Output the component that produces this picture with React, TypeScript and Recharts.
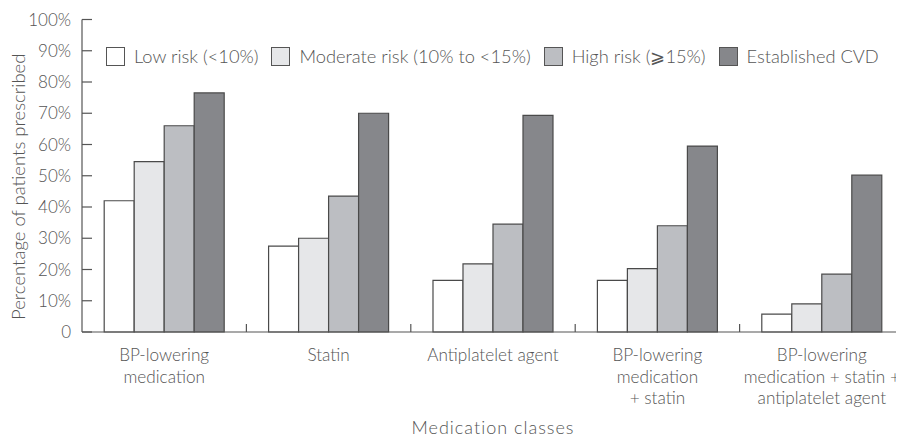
import React from 'react';
import { BarChart, Bar, XAxis, YAxis, Legend } from 'recharts';

const categories = [
  'BP-lowering\nmedication',
  'Statin',
  'Antiplatelet agent',
  'BP-lowering\nmedication\n+ statin',
  'BP-lowering\nmedication + statin +\nantiplatelet agent',
];
const lowRisk = [42, 27.5, 16.5, 16.5, 5.7];
const moderateRisk = [54.5, 30, 21.8, 20.3, 9];
const highRisk = [66, 43.5, 34.5, 34, 18.5];
const establishedCvd = [76.5, 70, 69.3, 59.5, 50.2];
const yTicks = [0, 10, 20, 30, 40, 50, 60, 70, 80, 90, 100];

const series = [
  { key: 'low', name: 'Low risk (<10%)', fill: '#ffffff' },
  { key: 'moderate', name: 'Moderate risk (10% to <15%)', fill: '#e6e7e9' },
  { key: 'high', name: 'High risk (\u2a7e15%)', fill: '#bcbec2' },
  { key: 'cvd', name: 'Established CVD', fill: '#86878b' },
];

const data = categories.map((name, i) => ({
  name,
  low: lowRisk[i],
  moderate: moderateRisk[i],
  high: highRisk[i],
  cvd: establishedCvd[i],
}));

const FONT = 'Lato, "Open Sans", sans-serif';
const TEXT = '#555555';
const LINE = '#555555';

const YTick = (props: any) => {
  const { x, y, payload } = props;
  return (
    <g>
      <line x1={x + 11} x2={x + 21} y1={y} y2={y} stroke={LINE} strokeWidth={1.2} />
      <text x={x} y={y} dy={6} textAnchor="end" fill={TEXT} fontSize={17} fontWeight={300} fontFamily={FONT}>
        {payload.value === 0 ? '0' : `${payload.value}%`}
      </text>
    </g>
  );
};

const XTick = (props: any) => {
  const { x, y, payload, index } = props;
  const lines = String(payload.value).split('\n');
  const off = payload.offset ?? 0;
  return (
    <g>
      {index > 0 && (
        <line x1={x - off} x2={x - off} y1={y} y2={y - 8} stroke={LINE} strokeWidth={1.2} />
      )}
      <text x={x} y={y + 29} textAnchor="middle" fill={TEXT} fontSize={17.2} fontWeight={300} fontFamily={FONT}>
        {lines.map((l, i) => (
          <tspan key={i} x={x} dy={i === 0 ? 0 : 21.5}>
            {l}
          </tspan>
        ))}
      </text>
    </g>
  );
};

const YLabel = (props: any) => {
  const vb = props.viewBox;
  const cx = vb.x + 16.5;
  const cy = vb.y + vb.height / 2 + 11;
  return (
    <text
      x={cx}
      y={cy}
      transform={`rotate(-90, ${cx}, ${cy})`}
      textAnchor="middle"
      fill={TEXT}
      fontSize={18.5}
      fontWeight={300}
      fontFamily={FONT}
    >
      Percentage of patients prescribed
    </text>
  );
};

const LegendContent = () => (
  <div
    style={{
      display: 'flex',
      alignItems: 'center',
      fontFamily: FONT,
      fontSize: 18.3,
      fontWeight: 300,
      color: TEXT,
      whiteSpace: 'nowrap',
    }}
  >
    {series.map((s) => (
      <div key={s.key} style={{ display: 'flex', alignItems: 'center', marginRight: 13 }}>
        <span
          style={{
            display: 'inline-block',
            width: 17,
            height: 17,
            background: s.fill,
            border: `1.5px solid ${LINE}`,
            marginRight: 9,
          }}
        />
        <span>{s.name}</span>
      </div>
    ))}
  </div>
);

export default function App() {
  return (
    <div style={{ width: 896, height: 429 }}>
      <BarChart
        width={896}
        height={429}
        data={data}
        margin={{ top: 11.5, right: 0, left: 0, bottom: 0 }}
        barGap={0}
        barCategoryGap="13.5%"
        style={{ overflow: 'visible' }}
      >
        <XAxis
          dataKey="name"
          height={105}
          tickLine={false}
          tickSize={0}
          tickMargin={0}
          interval={0}
          stroke={LINE}
          strokeWidth={1.2}
          tick={<XTick />}
          label={{
            value: 'Medication classes',
            position: 'insideBottom',
            offset: 3,
            fill: TEXT,
            fontSize: 18,
            fontWeight: 300,
            fontFamily: FONT,
            letterSpacing: 1,
          }}
        />
        <YAxis
          width={74}
          domain={[0, 100]}
          ticks={yTicks}
          interval={0}
          tickLine={false}
          tickSize={0}
          tickMargin={11}
          stroke={LINE}
          strokeWidth={1.2}
          tick={<YTick />}
          label={<YLabel />}
        />
        <Legend
          layout="horizontal"
          verticalAlign="middle"
          align="center"
          content={<LegendContent />}
          wrapperStyle={{ top: 37, left: 98, width: 'auto' }}
        />
        {series.map((s) => (
          <Bar
            key={s.key}
            dataKey={s.key}
            name={s.name}
            fill={s.fill}
            stroke="#4a4a4a"
            strokeWidth={1.2}
            isAnimationActive={false}
          />
        ))}
      </BarChart>
    </div>
  );
}
